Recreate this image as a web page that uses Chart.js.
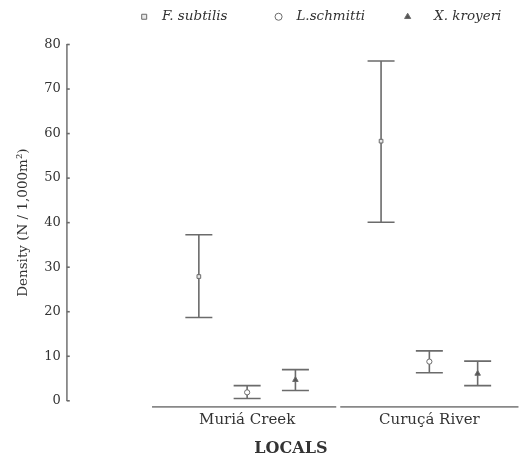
<!DOCTYPE html>
<html>
<head>
<meta charset="utf-8">
<script src="https://cdn.jsdelivr.net/npm/chart.js@4.4.0/dist/chart.umd.min.js"></script>
<style>
  html, body { margin: 0; padding: 0; background: #fff; }
  #wrap { width: 520px; height: 459px; }
</style>
</head>
<body>
<div id="wrap"><canvas id="chart"></canvas></div>
<script>
// data
const locals = ['Muriá Creek', 'Curuçá River'];
const species = ['F. subtilis', 'L.schmitti', 'X. kroyeri'];

const subtilisMean = [27.9, 58.3];
const subtilisLow = [18.7, 40.1];
const subtilisHigh = [37.3, 76.3];

const schmittiMean = [1.9, 8.8];
const schmittiLow = [0.5, 6.3];
const schmittiHigh = [3.4, 11.2];

const kroyeriMean = [4.7, 6.1];
const kroyeriLow = [2.3, 3.4];
const kroyeriHigh = [7.0, 8.9];

const yTicks = [0, 10, 20, 30, 40, 50, 60, 70, 80];

const grey = '#6b6b6b';
const textColor = '#333';
const serif = "'DejaVu Serif', 'Liberation Serif', serif";
const offsets = [-0.265, 0, 0.265];
const legendLead = ['  ', '  ', '    '];
const legendGap = ['         ', '       ', '  '];

function makeSet(label, means, lows, highs, idx, style, fill) {
    return {
        label: label,
        data: means.map((m, i) => ({ x: i + offsets[idx], y: m, low: lows[i], high: highs[i] })),
        pointStyle: style,
        pointRadius: style === 'triangle' ? 3.2 : 2.6,
        pointBorderWidth: 1,
        borderColor: grey,
        backgroundColor: fill,
        pointBackgroundColor: fill,
        pointBorderColor: grey,
        showLine: false
    };
}

// leave room under the legend
const legendSpace = {
    id: 'legendSpace',
    beforeInit(chart) {
        const fit = chart.legend.fit;
        chart.legend.fit = function () {
            fit.call(this);
            this.height += 11;
        };
    }
};

const errorBars = {
    id: 'errorBars',
    beforeDatasetsDraw(chart) {
        const { ctx, scales: { x, y } } = chart;
        ctx.save();
        ctx.strokeStyle = grey;
        ctx.lineWidth = 1.6;
        chart.data.datasets.forEach((ds) => {
            ds.data.forEach((p) => {
                const px = x.getPixelForValue(p.x);
                const top = y.getPixelForValue(p.high);
                const bot = y.getPixelForValue(p.low);
                ctx.beginPath();
                ctx.moveTo(px, top);
                ctx.lineTo(px, bot);
                ctx.moveTo(px - 13.5, top);
                ctx.lineTo(px + 13.5, top);
                ctx.moveTo(px - 13.5, bot);
                ctx.lineTo(px + 13.5, bot);
                ctx.stroke();
            });
        });
        // inner tick marks on the y axis
        const left = chart.chartArea.left;
        y.ticks.forEach((t) => {
            const py = y.getPixelForValue(t.value);
            ctx.beginPath();
            ctx.moveTo(left, py);
            ctx.lineTo(left + 3, py);
            ctx.stroke();
        });
        // category baseline segments
        const by = chart.chartArea.bottom + 6;
        ctx.lineWidth = 1.8;
        ctx.strokeStyle = '#888';
        locals.forEach((name, i) => {
            const a = x.getPixelForValue(i - 0.5) + (i === 0 ? -4 : 2);
            const b = x.getPixelForValue(i + 0.5) - 2;
            ctx.beginPath();
            ctx.moveTo(a, by);
            ctx.lineTo(b, by);
            ctx.stroke();
        });
        ctx.restore();
    }
};

new Chart(document.getElementById('chart'), {
    type: 'scatter',
    data: {
        datasets: [
            makeSet(species[0], subtilisMean, subtilisLow, subtilisHigh, 0, 'rect', '#e8e8e8'),
            makeSet(species[1], schmittiMean, schmittiLow, schmittiHigh, 1, 'circle', '#ffffff'),
            makeSet(species[2], kroyeriMean, kroyeriLow, kroyeriHigh, 2, 'triangle', '#555555')
        ]
    },
    options: {
        responsive: true,
        maintainAspectRatio: false,
        animation: false,
        layout: { padding: { left: 15, right: 0, top: 0, bottom: 1 } },
        plugins: {
            tooltip: { enabled: false },
            legend: {
                position: 'top',
                align: 'end',
                labels: {
                    usePointStyle: true,
                    boxWidth: 5,
                    boxHeight: 5,
                    padding: 10,
                    color: textColor,
                    font: { family: serif, size: 13.5, style: 'italic' },
                    generateLabels(chart) {
                        return chart.data.datasets.map((ds, i) => ({
                            text: legendLead[i] + ds.label + legendGap[i],
                            pointStyle: ds.pointStyle,
                            fillStyle: ds.pointBackgroundColor,
                            strokeStyle: grey,
                            lineWidth: 1,
                            fontColor: textColor,
                            datasetIndex: i
                        }));
                    }
                }
            }
        },
        scales: {
            x: {
                type: 'linear',
                min: -0.99,
                max: 1.47,
                afterBuildTicks(scale) {
                    scale.ticks = locals.map((n, i) => ({ value: i }));
                },
                ticks: {
                    padding: 2,
                    color: textColor,
                    font: { family: serif, size: 15 },
                    callback: (v) => locals[v]
                },
                grid: { display: false },
                border: { display: false },
                title: {
                    display: true,
                    text: 'LOCALS',
                    color: textColor,
                    font: { family: serif, size: 16, weight: 'bold' },
                    padding: { top: 8, bottom: 0 }
                }
            },
            y: {
                min: 0,
                max: 80,
                afterBuildTicks(scale) {
                    scale.ticks = yTicks.map((v) => ({ value: v }));
                },
                ticks: {
                    padding: 6,
                    color: textColor,
                    font: { family: serif, size: 13 }
                },
                grid: { display: false, drawTicks: false },
                border: { display: true, color: '#888', width: 1.8 },
                title: {
                    display: true,
                    text: 'Density (N / 1,000m²)',
                    color: textColor,
                    font: { family: serif, size: 13.5 },
                    padding: { top: 0, bottom: 7 }
                }
            }
        }
    },
    plugins: [legendSpace, errorBars]
});
</script>
</body>
</html>
